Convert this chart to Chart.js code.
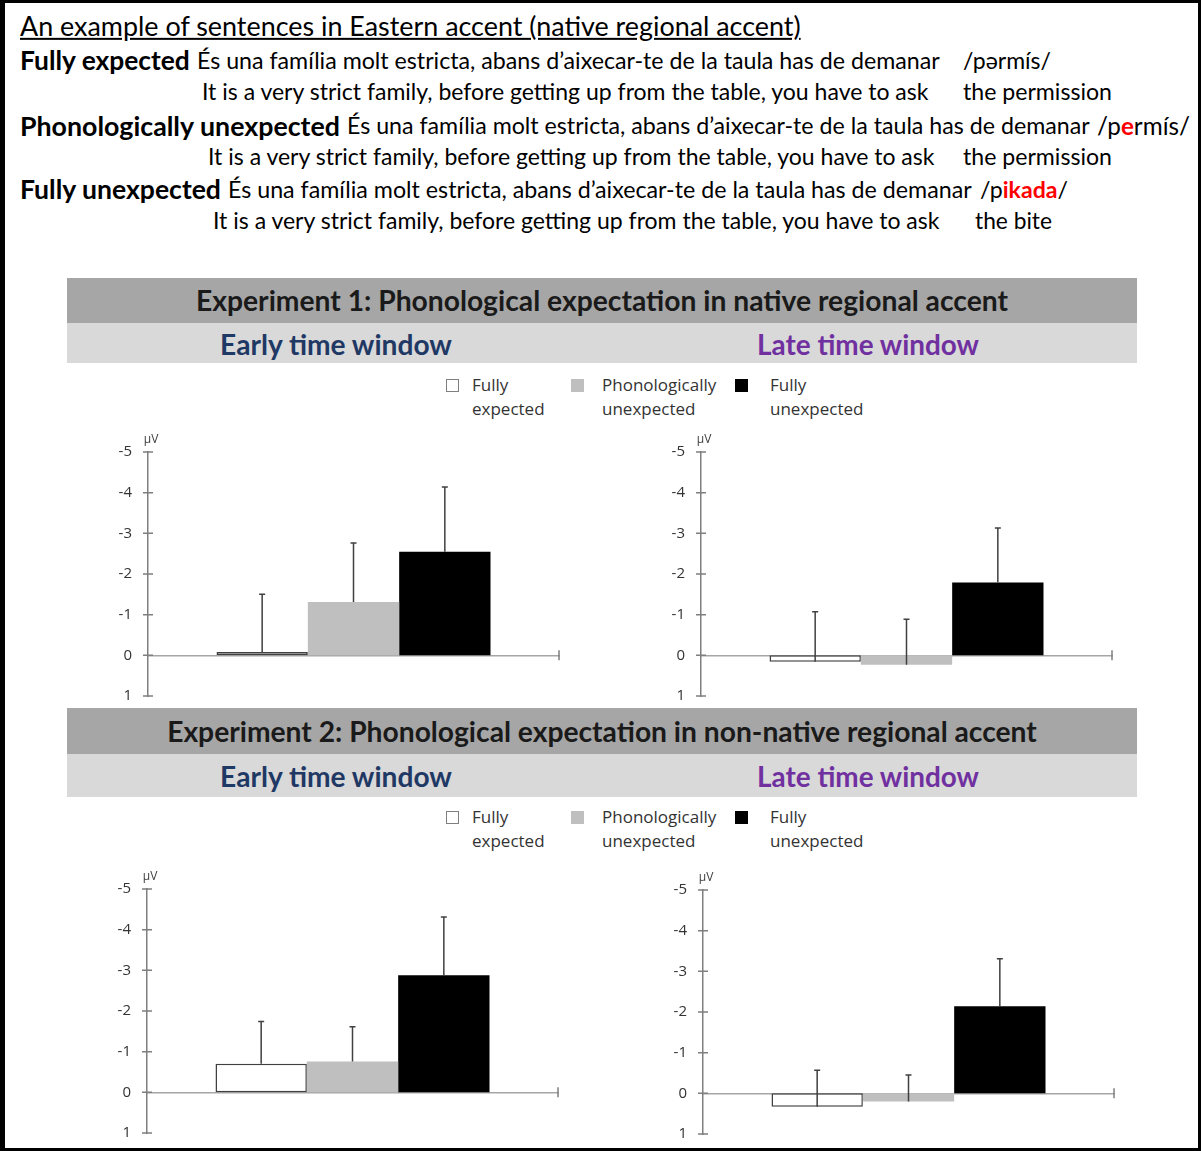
<!DOCTYPE html>
<html>
<head>
<meta charset="utf-8">
<script src="https://cdn.jsdelivr.net/npm/chart.js@4.4.0/dist/chart.umd.min.js"></script>
<style>
body { margin: 0; background: #fff; }
#page { position: relative; width: 1201px; height: 1151px; overflow: hidden; font-family: Lato, sans-serif; color: #000; }
#frame { position: absolute; left: 0; top: 0; width: 1201px; height: 1151px; box-sizing: border-box; border: 3px solid #000; border-left-width: 5px; }
.t { position: absolute; white-space: nowrap; line-height: 1.2; transform: translateY(-50%); font-size: 22px; }
.c { transform: translate(-50%, -50%); }
.b { font-weight: bold; }
.red { color: #f00; font-weight: bold; }
.band { position: absolute; left: 67px; width: 1070px; }
.dark { background: #a6a6a6; }
.light { background: #d9d9d9; }
.early { color: #1f3864; }
.late { color: #7030a0; }
.lg { position: absolute; font-family: 'Open Sans', sans-serif; font-size: 17px; line-height: 24px; color: #333; white-space: nowrap; }
.box { position: absolute; width: 13px; height: 13px; box-sizing: border-box; }
canvas { position: absolute; }
</style>
</head>
<body>
<div id="page">
  <span class="t" style="left:20px;top:26px;text-decoration:underline" data-w="781">An example of sentences in Eastern accent (native regional accent)</span>

  <span class="t b" style="left:20px;top:61px" data-w="170">Fully expected</span>
  <span class="t" style="left:197px;top:61px" data-w="743">És una família molt estricta, abans d’aixecar-te de la taula has de demanar</span>
  <span class="t" style="left:963px;top:61px" data-w="88">/pərmís/</span>
  <span class="t" style="left:202px;top:92px" data-w="727">It is a very strict family, before getting up from the table, you have to ask</span>
  <span class="t" style="left:963px;top:92px" data-w="149">the permission</span>

  <span class="t b" style="left:20px;top:126px" data-w="320">Phonologically unexpected</span>
  <span class="t" style="left:347px;top:126px" data-w="743">És una família molt estricta, abans d’aixecar-te de la taula has de demanar</span>
  <span class="t" style="left:1097px;top:126px" data-w="93">/p<span class="red">e</span>rmís/</span>
  <span class="t" style="left:208px;top:157px" data-w="727">It is a very strict family, before getting up from the table, you have to ask</span>
  <span class="t" style="left:963px;top:157px" data-w="149">the permission</span>

  <span class="t b" style="left:20px;top:190px" data-w="201">Fully unexpected</span>
  <span class="t" style="left:228px;top:190px" data-w="744">És una família molt estricta, abans d’aixecar-te de la taula has de demanar</span>
  <span class="t" style="left:980px;top:190px" data-w="88">/p<span class="red">ikada</span>/</span>
  <span class="t" style="left:213px;top:221px" data-w="727">It is a very strict family, before getting up from the table, you have to ask</span>
  <span class="t" style="left:975px;top:221px" data-w="77">the bite</span>

  <!-- experiment 1 -->
  <div class="band dark" style="top:278px;height:45px"></div>
  <div class="band light" style="top:323px;height:40px"></div>
  <span class="t c b" style="left:602px;top:301px;color:#1a1a1a" data-w="812">Experiment 1: Phonological expectation in native regional accent</span>
  <span class="t c b early" style="left:336px;top:345px" data-w="232">Early time window</span>
  <span class="t c b late" style="left:868px;top:345px" data-w="222">Late time window</span>
  <div id="legend1"></div>
  <canvas id="exp1Early" width="490" height="280" style="left:80px;top:430px"></canvas>
  <canvas id="exp1Late" width="490" height="280" style="left:633px;top:430px"></canvas>

  <!-- experiment 2 -->
  <div class="band dark" style="top:708px;height:46px"></div>
  <div class="band light" style="top:754px;height:43px"></div>
  <span class="t c b" style="left:602px;top:732px;color:#1a1a1a" data-w="870">Experiment 2: Phonological expectation in non-native regional accent</span>
  <span class="t c b early" style="left:336px;top:777px" data-w="232">Early time window</span>
  <span class="t c b late" style="left:868px;top:777px" data-w="222">Late time window</span>
  <div id="legend2"></div>
  <canvas id="exp2Early" width="490" height="280" style="left:79px;top:867px"></canvas>
  <canvas id="exp2Late" width="490" height="280" style="left:635px;top:868px"></canvas>

  <div id="frame"></div>
</div>
<script>
var conditions = [['Fully', 'expected'], ['Phonologically', 'unexpected'], ['Fully', 'unexpected']];
var yTicks = [-5, -4, -3, -2, -1, 0, 1];

// mean amplitude (µV) and error bar length per condition
var exp1EarlyMeans = [-0.08, -1.31, -2.55];
var exp1EarlyErrors = [1.42, 1.45, 1.59];
var exp1LateMeans = [0.16, 0.23, -1.79];
var exp1LateErrors = [1.23, 1.12, 1.34];
var exp2EarlyMeans = [-0.70, -0.76, -2.88];
var exp2EarlyErrors = [1.04, 0.85, 1.43];
var exp2LateMeans = [0.33, 0.20, -2.14];
var exp2LateErrors = [0.90, 0.65, 1.17];

var fills = ['#ffffff', '#bfbfbf', '#000000'];
var borders = ['#404040', '#bfbfbf', '#000000'];
var borderWidths = [1.5, 0, 0];

// make each text span as wide as in the picture
document.querySelectorAll('[data-w]').forEach(function (el) {
  var fs = parseFloat(getComputedStyle(el).fontSize);
  el.style.fontSize = (fs * el.dataset.w / el.getBoundingClientRect().width) + 'px';
});

function buildLegend(id, top) {
  var boxLeft = [446, 571, 735];
  var textLeft = [472, 602, 770];
  var html = '';
  conditions.forEach(function (lines, i) {
    var edge = i === 0 ? '1px solid #7f7f7f' : 'none';
    html += '<div class="box" style="left:' + boxLeft[i] + 'px;top:' + (top + 4) + 'px;background:' + fills[i] + ';border:' + edge + '"></div>';
    html += '<div class="lg" style="left:' + textLeft[i] + 'px;top:' + (top - 2) + 'px">' + lines.join('<br>') + '</div>';
  });
  document.getElementById(id).innerHTML = html;
}
buildLegend('legend1', 375);
buildLegend('legend2', 807);

var errorBars = {
  id: 'errorBars',
  afterDatasetsDraw: function (chart) {
    var ctx = chart.ctx, y = chart.scales.y;
    ctx.save();
    ctx.strokeStyle = '#404040';
    ctx.lineWidth = 1.5;
    chart.data.datasets.forEach(function (ds, i) {
      var bar = chart.getDatasetMeta(i).data[0];
      var top = y.getPixelForValue(ds.data[0] - ds.err);
      ctx.beginPath();
      ctx.moveTo(bar.x, bar.y);
      ctx.lineTo(bar.x, top);
      ctx.moveTo(bar.x - 3, top);
      ctx.lineTo(bar.x + 3, top);
      ctx.stroke();
    });
    ctx.restore();
  }
};

// tick marks crossing the axes and the unit label
var axisMarks = {
  id: 'axisMarks',
  afterDraw: function (chart) {
    var ctx = chart.ctx, y = chart.scales.y, a = chart.chartArea;
    var y0 = y.getPixelForValue(0);
    ctx.save();
    ctx.strokeStyle = '#7f7f7f';
    ctx.lineWidth = 1.5;
    ctx.beginPath();
    y.ticks.forEach(function (t) {
      var py = y.getPixelForValue(t.value);
      ctx.moveTo(a.left - 5, py);
      ctx.lineTo(a.left + 5, py);
    });
    ctx.moveTo(a.right, y0 - 5);
    ctx.lineTo(a.right, y0 + 5);
    ctx.stroke();
    ctx.fillStyle = '#404040';
    ctx.font = '12px "Open Sans"';
    ctx.textAlign = 'center';
    ctx.fillText('µV', a.left + 3, a.top - 9);
    ctx.restore();
  }
};

function makeChart(id, means, errors) {
  new Chart(document.getElementById(id), {
    type: 'bar',
    data: {
      labels: [''],
      datasets: conditions.map(function (lines, i) {
        return {
          label: lines.join(' '),
          data: [means[i]],
          err: errors[i],
          backgroundColor: fills[i],
          borderColor: borders[i],
          borderWidth: borderWidths[i],
          borderSkipped: false,
          categoryPercentage: 2 / 3,
          barPercentage: 1
        };
      })
    },
    options: {
      responsive: false,
      animation: false,
      layout: { padding: { left: 18, top: 22, right: 11, bottom: 14 } },
      plugins: { legend: { display: false }, tooltip: { enabled: false } },
      scales: {
        x: {
          position: { y: 0 },
          afterFit: function (scale) { scale.height = 0; },
          grid: { display: false, drawTicks: false },
          border: { color: '#a6a6a6', width: 1.5 },
          ticks: { display: false }
        },
        y: {
          reverse: true,
          min: yTicks[0],
          max: yTicks[yTicks.length - 1],
          afterFit: function (scale) {
            scale.width = 50;
            scale.paddingTop = 0;
            scale.paddingBottom = 0;
          },
          ticks: { stepSize: 1, padding: 16, color: '#333', font: { family: 'Open Sans', size: 15 } },
          grid: { display: false, drawTicks: false },
          border: { color: '#7f7f7f', width: 1.5 }
        }
      }
    },
    plugins: [axisMarks, errorBars]
  });
}

makeChart('exp1Early', exp1EarlyMeans, exp1EarlyErrors);
makeChart('exp1Late', exp1LateMeans, exp1LateErrors);
makeChart('exp2Early', exp2EarlyMeans, exp2EarlyErrors);
makeChart('exp2Late', exp2LateMeans, exp2LateErrors);
</script>
</body>
</html>
